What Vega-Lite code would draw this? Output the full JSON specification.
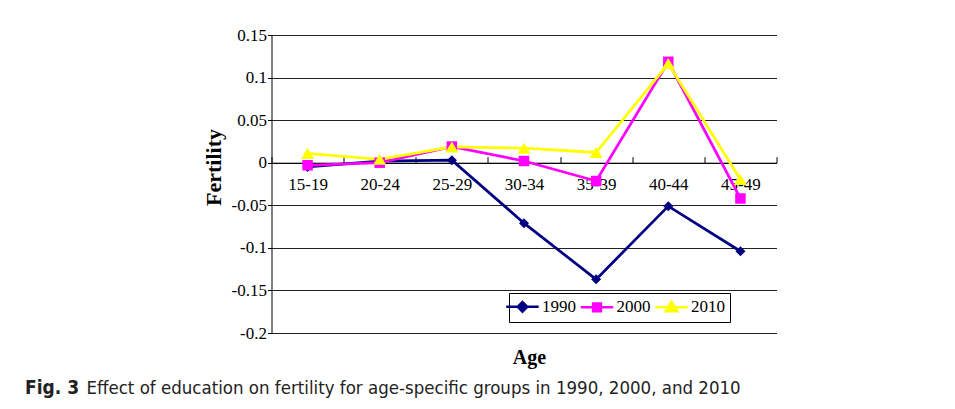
{
  "$schema": "https://vega.github.io/schema/vega-lite/v6.json",
  "width": 505,
  "height": 298,
  "autosize": {"type": "none"},
  "padding": {"left": 271.5, "top": 35, "right": 178.5, "bottom": 76},
  "background": "white",
  "config": {"view": {"stroke": null}, "font": "Liberation Serif"},
  "title": {
    "text": "Fig. 3",
    "subtitle": "\u200b\u00a0\u00a0\u00a0\u00a0\u00a0\u00a0\u00a0\u00a0\u00a0\u00a0\u00a0\u2009Effect of education on fertility for age-specific groups in 1990, 2000, and 2010",
    "orient": "bottom",
    "anchor": "start",
    "frame": "group",
    "dx": -246.5,
    "offset": 11.5,
    "baseline": "top",
    "font": "Liberation Sans Narrow, DejaVu Sans Condensed, Open Sans, sans-serif",
    "fontSize": 19,
    "fontWeight": "bold",
    "color": "#222222",
    "subtitleFont": "Liberation Sans Narrow, DejaVu Sans Condensed, Open Sans, sans-serif",
    "subtitleFontSize": 18.5,
    "subtitleColor": "#222222",
    "subtitlePadding": -19
  },
  "data": {
    "values": [
      {"age": "15-19", "year": "1990", "fertility": -0.005},
      {"age": "20-24", "year": "1990", "fertility": 0.002},
      {"age": "25-29", "year": "1990", "fertility": 0.003},
      {"age": "30-34", "year": "1990", "fertility": -0.071},
      {"age": "35-39", "year": "1990", "fertility": -0.137},
      {"age": "40-44", "year": "1990", "fertility": -0.051},
      {"age": "45-49", "year": "1990", "fertility": -0.104},
      {"age": "15-19", "year": "2000", "fertility": -0.003},
      {"age": "20-24", "year": "2000", "fertility": 0.0},
      {"age": "25-29", "year": "2000", "fertility": 0.019},
      {"age": "30-34", "year": "2000", "fertility": 0.002},
      {"age": "35-39", "year": "2000", "fertility": -0.0215},
      {"age": "40-44", "year": "2000", "fertility": 0.1185},
      {"age": "45-49", "year": "2000", "fertility": -0.042},
      {"age": "15-19", "year": "2010", "fertility": 0.011},
      {"age": "20-24", "year": "2010", "fertility": 0.004},
      {"age": "25-29", "year": "2010", "fertility": 0.0185},
      {"age": "30-34", "year": "2010", "fertility": 0.017},
      {"age": "35-39", "year": "2010", "fertility": 0.012},
      {"age": "40-44", "year": "2010", "fertility": 0.1165},
      {"age": "45-49", "year": "2010", "fertility": -0.0197}
    ]
  },
  "encoding": {
    "x": {
      "field": "age",
      "type": "ordinal",
      "sort": null,
      "bandPosition": 0.5,
      "scale": {"type": "band", "paddingInner": 0, "paddingOuter": 0},
      "axis": {
        "orient": "bottom",
        "offset": -170.3,
        "title": "Age",
        "titleFont": "Liberation Serif",
        "titleFontSize": 20,
        "titleFontWeight": "bold",
        "titleColor": "black",
        "titleX": 257.5,
        "titleY": 200.5,
        "titleBaseline": "alphabetic",
        "titleAlign": "center",
        "labelFont": "Liberation Serif",
        "labelFontSize": 17,
        "labelColor": "black",
        "labelAngle": 0,
        "labelPadding": 19.5,
        "tickBand": "extent",
        "tickSize": -6,
        "tickColor": "black",
        "domainColor": "black",
        "grid": false
      }
    },
    "y": {
      "field": "fertility",
      "type": "quantitative",
      "scale": {"domain": [-0.2, 0.15], "nice": false, "zero": false},
      "axis": {
        "values": [-0.2, -0.15, -0.1, -0.05, 0, 0.05, 0.1, 0.15],
        "labelExpr": "'' + datum.value",
        "title": "Fertility",
        "titleFont": "Liberation Serif",
        "titleFontSize": 22,
        "titleFontWeight": "bold",
        "titleColor": "black",
        "titleX": -58.5,
        "titleY": 132,
        "titleAngle": -90,
        "titleBaseline": "middle",
        "titleAlign": "center",
        "labelFont": "Liberation Serif",
        "labelFontSize": 17,
        "labelColor": "black",
        "tickSize": 4,
        "tickColor": "black",
        "labelPadding": 1,
        "domainColor": "black",
        "grid": true,
        "gridColor": "#222222",
        "gridWidth": 1
      }
    }
  },
  "layer": [
    {
      "mark": {"type": "line", "strokeWidth": 2.75},
      "encoding": {
        "color": {
          "field": "year",
          "type": "nominal",
          "scale": {"domain": ["1990", "2000", "2010"], "range": ["#000080", "#FF00FF", "#FFFF00"]},
          "legend": {
            "orient": "none",
            "legendX": 237.5,
            "legendY": 258,
            "direction": "horizontal",
            "title": null,
            "strokeColor": "black",
            "fillColor": "white",
            "padding": 5,
            "symbolSize": 144,
            "symbolStrokeWidth": 2.5,
            "symbolOpacity": 1,
            "symbolType": {"expr": "datum.value == '1990' ? 'M-2.7,0L2.7,0M0,-0.8L0.8,0L0,0.8L-0.8,0Z' : datum.value == '2000' ? 'M-2.7,0L2.7,0M-0.65,-0.65L0.65,-0.65L0.65,0.65L-0.65,0.65Z' : 'M-2.7,0L2.7,0M0,-0.9L0.95,0.7L-0.95,0.7Z'"},
            "symbolFillColor": {"expr": "datum.value == '1990' ? '#000080' : datum.value == '2000' ? '#FF00FF' : '#FFFF00'"},
            "labelFont": "Liberation Serif",
            "labelFontSize": 17,
            "labelColor": "black",
            "labelOffset": 11,
            "columnPadding": -0.5
          }
        }
      }
    },
    {
      "transform": [{"filter": "datum.year == '1990'"}],
      "mark": {"type": "point", "shape": "diamond", "filled": true, "opacity": 1, "color": "#000080", "size": 100}
    },
    {
      "transform": [{"filter": "datum.year == '2000'"}],
      "mark": {"type": "point", "shape": "square", "filled": true, "opacity": 1, "color": "#FF00FF", "size": 110}
    },
    {
      "transform": [{"filter": "datum.year == '2010'"}],
      "mark": {"type": "point", "shape": "triangle-up", "filled": true, "opacity": 1, "color": "#FFFF00", "size": 165}
    }
  ]
}
